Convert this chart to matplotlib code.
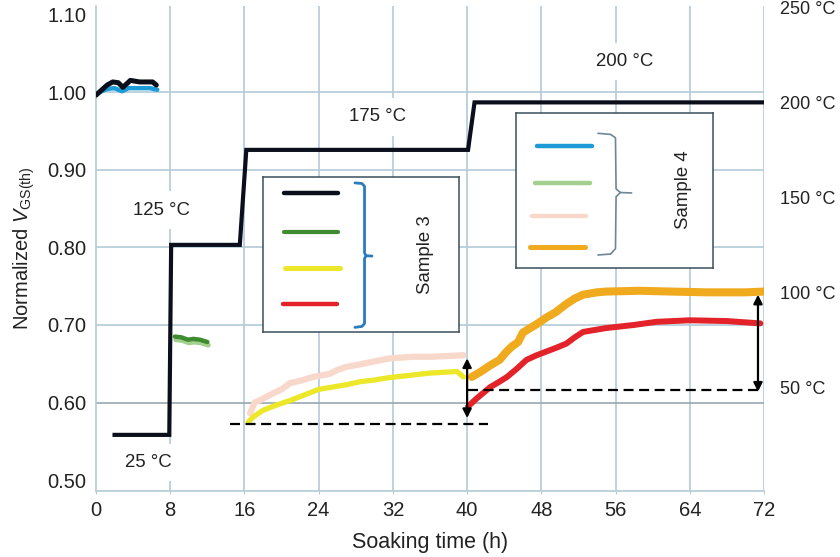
import matplotlib
matplotlib.use("Agg")
import matplotlib.pyplot as plt

plt.rcParams["font.family"] = ["Liberation Sans", "DejaVu Sans"]
plt.rcParams["mathtext.fontset"] = "custom"
plt.rcParams["mathtext.rm"] = "Liberation Sans"
plt.rcParams["mathtext.it"] = "Liberation Sans:italic"

# ---------------- data ----------------
x_ticks = [0, 8, 16, 24, 32, 40, 48, 56, 64, 72]
y_ticks = [0.50, 0.60, 0.70, 0.80, 0.90, 1.00, 1.10]
temp_ticks = [50, 100, 150, 200, 250]

# oven temperature profile (right axis)
temp_h = [2.0, 7.9, 8.1, 15.5, 16.2, 40.1, 40.8, 72.0]
temp_c = [25, 25, 125, 125, 175, 175, 200, 200]

# Sample 3
s3_25_h = [0.0, 1.2, 1.8, 2.4, 2.9, 3.7, 4.7, 6.1, 6.5]
s3_25_v = [0.996, 1.009, 1.013, 1.012, 1.006, 1.015, 1.013, 1.013, 1.009]
s3_125_h = [8.5, 9.2, 9.9, 10.5, 11.2, 12.0]
s3_125_v = [0.685, 0.684, 0.681, 0.682, 0.681, 0.678]
s3_175_h = [16.4, 17.0, 18.0, 19.5, 21.0, 22.5, 24.0, 25.5, 27.0, 28.5,
            30.0, 31.5, 33.0, 34.5, 36.0, 37.5, 38.9, 39.6]
s3_175_v = [0.575, 0.582, 0.590, 0.597, 0.603, 0.610, 0.617, 0.620, 0.623, 0.627,
            0.629, 0.632, 0.634, 0.636, 0.638, 0.639, 0.640, 0.633]
s3_200_h = [40.1, 41.0, 42.5, 43.5, 44.3, 45.4, 46.4, 47.5, 48.6, 49.7,
            50.7, 51.6, 52.5, 55.0, 58.0, 60.4, 64.0, 68.0, 71.6]
s3_200_v = [0.595, 0.605, 0.620, 0.627, 0.633, 0.644, 0.655, 0.661, 0.666, 0.671,
            0.676, 0.684, 0.691, 0.696, 0.700, 0.704, 0.706, 0.705, 0.702]

# Sample 4
s4_25_h = [0.4, 1.2, 2.0, 2.8, 3.5, 4.7, 5.8, 6.6]
s4_25_v = [1.000, 1.004, 1.005, 1.001, 1.005, 1.005, 1.005, 1.003]
s4_125_h = [8.6, 9.3, 10.0, 10.6, 11.3, 12.1]
s4_125_v = [0.681, 0.680, 0.677, 0.678, 0.677, 0.674]
s4_175_h = [16.6, 17.1, 18.0, 19.1, 20.0, 20.9, 22.0, 23.4, 25.2, 26.0,
            27.0, 28.8, 30.0, 31.7, 34.2, 36.0, 38.0, 39.6]
s4_175_v = [0.586, 0.600, 0.605, 0.612, 0.617, 0.625, 0.628, 0.633, 0.637, 0.642,
            0.646, 0.650, 0.653, 0.657, 0.659, 0.659, 0.660, 0.661]
s4_200_h = [40.5, 41.5, 42.5, 43.5, 44.2, 44.8, 45.5, 46.0, 46.8, 47.5, 48.6,
            49.5, 50.7, 51.6, 52.5, 54.0, 55.0, 58.6, 62.0, 65.8, 70.0, 72.0]
s4_200_v = [0.633, 0.640, 0.648, 0.655, 0.665, 0.672, 0.678, 0.690, 0.696, 0.701, 0.710,
            0.716, 0.727, 0.734, 0.739, 0.742, 0.743, 0.744, 0.743, 0.742, 0.742, 0.743]

# reference levels and shifts
ref_175 = 0.572
ref_200 = 0.616
shift_175 = (40.0, 0.580, 0.657)
shift_200 = (71.35, 0.614, 0.739)

# temperature labels: (text, hour, value)
step_labels = [("25 °C", 5.6, 0.523), ("125 °C", 7.1, 0.848),
               ("175 °C", 30.4, 0.968), ("200 °C", 57.0, 1.039)]

# ---------------- colours ----------------
c_black = "#0b0f1c"
c_green3 = "#3f8c30"
c_yellow3 = "#ece829"
c_red3 = "#e3222a"
c_blue4 = "#1d9ad8"
c_green4 = "#a3cf8f"
c_pink4 = "#f8d8cb"
c_orange4 = "#f0aa1e"
c_grid = "#b3cbd8"
c_text = "#222222"

FS = 13.4
FS_TICK = 14.5

fig = plt.figure(figsize=(8.4, 5.57), dpi=100)
ax = fig.add_axes([0.11429, 0.1185, 0.79524, 0.8707])
ax.set_xlim(0, 72)
ax.set_ylim(0.4861, 1.1108)

# grid
for xv in x_ticks[1:]:
    ax.axvline(xv, color=c_grid, lw=1.2, zorder=0)
for yv in y_ticks[1:-1]:
    ax.axhline(yv, color="#97a8b0" if yv == 0.60 else c_grid, lw=1.2, zorder=0)

for side in ("top", "right"):
    ax.spines[side].set_visible(False)
for side in ("left", "bottom"):
    ax.spines[side].set_color(c_grid)
    ax.spines[side].set_linewidth(1.2)

ax.set_xticks(x_ticks)
ax.set_yticks(y_ticks)
ax.set_yticklabels([f"{v:.2f}" for v in y_ticks])
ax.tick_params(axis="x", length=2, color=c_grid, labelsize=FS_TICK, pad=5,
               labelcolor=c_text)
ax.tick_params(axis="y", length=0, labelsize=FS_TICK, pad=7, labelcolor=c_text)
ax.set_xlabel("Soaking time (h)", fontsize=15.5, color=c_text, labelpad=9)
ax.set_ylabel(r"Normalized $\mathit{V}_{\mathrm{GS(th)}}$", fontsize=14.5,
              color=c_text, labelpad=7)

# temperature step labels
for txt, hx, vy in step_labels:
    ax.text(hx, vy, txt, ha="center", va="center", fontsize=FS, color=c_text,
            zorder=1, bbox=dict(boxstyle="square,pad=0.55", fc="white", ec="none"))

# measured series
kw = dict(solid_capstyle="round", solid_joinstyle="round")
ax.plot(s4_25_h, s4_25_v, color=c_blue4, lw=3.2, zorder=3, **kw)
ax.plot(s3_25_h, s3_25_v, color=c_black, lw=3.6, zorder=4, **kw)
ax.plot(s4_125_h, s4_125_v, color=c_green4, lw=3.6, zorder=3, **kw)
ax.plot(s3_125_h, s3_125_v, color=c_green3, lw=3.2, zorder=4, **kw)
ax.plot(s4_175_h, s4_175_v, color=c_pink4, lw=4.5, zorder=3, **kw)
ax.plot(s3_175_h, s3_175_v, color=c_yellow3, lw=3.8, zorder=4, **kw)
ax.plot(s4_200_h, s4_200_v, color=c_orange4, lw=5.8, zorder=3, **kw)
ax.plot(s3_200_h, s3_200_v, color=c_red3, lw=4.3, zorder=4, **kw)

# reference levels
ax.plot([14.4, 42.3], [ref_175, ref_175], color="black", lw=1.6,
        dashes=(4.5, 2.5), zorder=5)
ax.plot([40.1, 71.9], [ref_200, ref_200], color="black", lw=1.6,
        dashes=(4.5, 2.5), zorder=5)

# shift arrows
for hx, lo, hi in (shift_175, shift_200):
    ax.annotate("", xy=(hx, hi), xytext=(hx, lo),
                arrowprops=dict(arrowstyle="<|-|>", color="black", lw=1.6,
                                mutation_scale=13, shrinkA=0, shrinkB=0),
                zorder=6)

# temperature profile on the right axis
ax2 = ax.twinx()
ax2.set_ylim(-4.54, 250.72)
ax2.plot(temp_h, temp_c, color=c_black, lw=3.0, solid_joinstyle="miter", zorder=2)
ax2.set_yticks(temp_ticks)
ax2.set_yticklabels([f"{t} °C" for t in temp_ticks])
ax2.tick_params(axis="y", length=0, labelsize=13, pad=11.5, labelcolor=c_text)
for side in ax2.spines:
    ax2.spines[side].set_visible(False)


def legend_box(rect, rows, bracket, bracket_color, bracket_lw, label, label_xy):
    lax = fig.add_axes(rect)
    lax.set_xlim(0, 1)
    lax.set_ylim(0, 1)
    lax.set_xticks([])
    lax.set_yticks([])
    lax.set_facecolor("white")
    for s in lax.spines.values():
        s.set_color("#3a4f5e")
        s.set_linewidth(1.1)
    for (x0, x1, yy, col, lw) in rows:
        lax.plot([x0, x1], [yy, yy], color=col, lw=lw, solid_capstyle="round")
    for seg in bracket:
        xs, ys = zip(*seg)
        lax.plot(xs, ys, color=bracket_color, lw=bracket_lw,
                 solid_capstyle="round", solid_joinstyle="round")
    lax.text(label_xy[0], label_xy[1], label, rotation=90, ha="center",
             va="center", fontsize=FS, color=c_text)
    return lax


legend_box(
    [263 / 840, (557 - 332) / 557, 196 / 840, 155 / 557],
    [(0.107, 0.383, 0.897, c_black, 3.2),
     (0.107, 0.383, 0.645, c_green3, 3.0),
     (0.112, 0.393, 0.413, c_yellow3, 3.6),
     (0.102, 0.378, 0.181, c_red3, 3.2)],
    [[(0.469, 0.962), (0.505, 0.958), (0.518, 0.940), (0.518, 0.510),
      (0.526, 0.492), (0.556, 0.490)],
     [(0.526, 0.492), (0.518, 0.474), (0.518, 0.055), (0.505, 0.036),
      (0.469, 0.030)]],
    "#2b7bbf", 2.0, "Sample 3", (0.827, 0.497))

legend_box(
    [516 / 840, (557 - 268) / 557, 197 / 840, 155 / 557],
    [(0.107, 0.386, 0.787, c_blue4, 3.2),
     (0.096, 0.376, 0.548, c_green4, 3.2),
     (0.081, 0.355, 0.335, c_pink4, 3.2),
     (0.071, 0.350, 0.135, c_orange4, 3.6)],
    [[(0.416, 0.869), (0.480, 0.862), (0.505, 0.840), (0.508, 0.510),
      (0.530, 0.487), (0.587, 0.484)],
     [(0.530, 0.487), (0.508, 0.460), (0.505, 0.125), (0.480, 0.090),
      (0.416, 0.084)]],
    "#6e8796", 1.2, "Sample 4", (0.848, 0.503))

fig.savefig("out.png", dpi=100)
